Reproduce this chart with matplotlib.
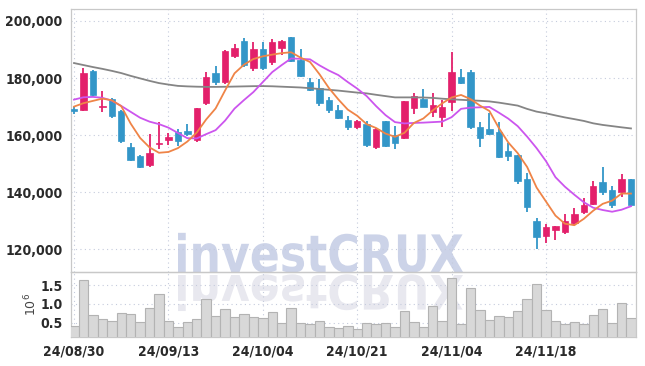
import matplotlib
matplotlib.use("Agg")
import matplotlib.pyplot as plt
import numpy as np
from matplotlib import font_manager
from matplotlib.textpath import TextPath
from matplotlib.patches import PathPatch
from matplotlib.font_manager import FontProperties
from matplotlib.transforms import Affine2D, IdentityTransform

dates = ["24/08/30", "24/09/02", "24/09/03", "24/09/04", "24/09/05", "24/09/06",
         "24/09/09", "24/09/10", "24/09/11", "24/09/12", "24/09/13",
         "24/09/19", "24/09/20", "24/09/23", "24/09/24", "24/09/25", "24/09/26", "24/09/27",
         "24/09/30", "24/10/02", "24/10/04",
         "24/10/07", "24/10/08", "24/10/10", "24/10/11",
         "24/10/14", "24/10/15", "24/10/16", "24/10/17", "24/10/18", "24/10/21",
         "24/10/22", "24/10/23", "24/10/24", "24/10/25",
         "24/10/28", "24/10/29", "24/10/30", "24/10/31", "24/11/01", "24/11/04",
         "24/11/05", "24/11/06", "24/11/07", "24/11/08",
         "24/11/11", "24/11/12", "24/11/13", "24/11/14", "24/11/15", "24/11/18",
         "24/11/19", "24/11/20", "24/11/21", "24/11/22",
         "24/11/25", "24/11/26", "24/11/27", "24/11/28", "24/11/29"]

opens = [169000, 168800, 182600, 169800, 172700, 168300, 155800, 152700, 149400, 157000,
         158200, 161000, 161500, 158200, 171300, 181900, 178700, 187800, 193000, 183400,
         190200, 185500, 190400, 194300, 186300, 178500, 176600, 172300, 168800, 165300,
         162900, 164000, 155900, 164900, 160000, 159000, 169400, 172500, 168200, 166400,
         171700, 180500, 182200, 162800, 162100, 161200, 154500, 153000, 144800, 129800,
         124700, 126700, 125900, 129200, 133100, 136000, 143600, 140700, 140100, 144600]
highs = [170000, 183500, 182800, 175500, 173000, 168700, 157200, 152900, 160300, 164700,
         160700, 162200, 163800, 169600, 182300, 184200, 190000, 191900, 194000, 192500,
         192500, 193600, 193300, 194500, 190100, 180100, 179500, 173400, 170500, 166800,
         165300, 165000, 162500, 165000, 163300, 172000, 174600, 176000, 174600, 172300,
         189200, 183200, 182800, 164600, 167600, 164700, 157100, 153200, 146800, 130800,
         129000, 128200, 132200, 134300, 137800, 143900, 148900, 142100, 146500, 144600]
lows = [167300, 168400, 173600, 168000, 166000, 157300, 150900, 148400, 149000, 155000,
        156500, 156300, 159800, 157500, 170500, 177500, 177900, 187000, 184000, 182600,
        183000, 184600, 188100, 185800, 180400, 175400, 170200, 167600, 165700, 161700,
        162100, 155800, 155000, 156000, 155300, 158500, 167400, 169700, 166400, 162900,
        168400, 177900, 162000, 155900, 160100, 152000, 150900, 143000, 133100, 120200,
        122200, 123100, 125500, 128400, 132200, 135400, 139000, 134600, 138400, 135000]
closes = [168300, 181900, 174000, 170200, 166700, 158000, 151400, 148800, 153600, 157300,
          159400, 158100, 160300, 169400, 180300, 178700, 189500, 190400, 184600, 190200,
          183400, 192500, 193000, 186100, 180800, 175800, 171100, 168800, 166100, 162900,
          165000, 156400, 162100, 156300, 157300, 171900, 173700, 169900, 170500, 169700,
          182200, 178100, 162700, 159100, 160300, 152400, 152700, 144000, 134800, 124300,
          127800, 128100, 129800, 132200, 135400, 142100, 140100, 135400, 144600, 135400]

ma5 = [170000, 171200, 172000, 172800, 172220, 170160, 164060, 159020, 155700, 153820,
       154100, 155440, 157740, 160900, 165500, 169360, 175640, 181660, 184700, 186680,
       187620, 188220, 188740, 189040, 187160, 185640, 181360, 176520, 172520, 168940,
       166780, 163840, 162500, 160540, 159420, 160800, 164260, 165820, 168660, 171140,
       173200, 174080, 172640, 170360, 168480, 162520, 157440, 153700, 148840, 141640,
       136720, 131800, 128960, 128440, 130660, 133520, 135920, 137040, 139520, 139520]
ma20 = [172450, 173260, 173400, 173090, 172100, 170240, 168170, 166100, 164730, 163860,
        162630, 160770, 158940, 158840, 160350, 161750, 165090, 169300, 172280, 175090,
        178600, 182100, 184560, 186880, 186740, 186560, 184460, 182630, 181050, 178600,
        176310, 173680, 170170, 167010, 164560, 164100, 164280, 164380, 164560, 164730,
        166300, 169220, 169640, 169750, 169890, 167890, 165790, 163150, 159470, 155440,
        150870, 145260, 141930, 139120, 136490, 134560, 133760, 133160, 133860, 135090]
ma60 = [185260, 184560, 183860, 183230, 182530, 181750, 180770, 179890, 179020, 178240,
        177720, 177260, 177090, 176980, 176910, 176910, 176950, 177020, 177090, 177160,
        177190, 177120, 176980, 176840, 176700, 176450, 176170, 175890, 175610, 175260,
        174910, 174630, 174140, 173680, 173230, 173230, 173230, 173190, 173050, 172770,
        172560, 172380, 172210, 172030, 171820, 171400, 170880, 170350, 169190, 168240,
        167650, 166910, 166210, 165610, 164980, 164140, 163580, 163160, 162740, 162350]
volumes = [410000, 1640000, 700000, 590000, 545000, 750000, 720000, 510000, 880000, 1250000,
           545000, 380000, 510000, 600000, 1120000, 680000, 860000, 640000, 720000, 640000,
           620000, 780000, 500000, 880000, 500000, 460000, 550000, 380000, 350000, 405000,
           325000, 485000, 465000, 485000, 380000, 820000, 510000, 390000, 940000, 545000,
           1680000, 460000, 1410000, 830000, 570000, 680000, 640000, 810000, 1130000, 1520000,
           840000, 540000, 460000, 510000, 460000, 710000, 870000, 490000, 1020000, 630000]

price_ticks = [120000, 140000, 160000, 180000, 200000]
vol_ticks = [0.5, 1.0, 1.5]

UP = "#e3206b"
DOWN = "#3396c8"
GRID = "#c5cbdc"
TXT = "#2a2a2a"

# pick a condensed bold face for tick labels if available
cond = FontProperties(family="DejaVu Sans", stretch="condensed", weight="bold")
path = font_manager.findfont(cond)
if "Condensed" in path:
    lab_font = dict(family="DejaVu Sans", stretch="condensed", weight="bold", size=10)
else:
    lab_font = dict(family="DejaVu Sans", weight="bold", size=8.6)

W, H = 645, 366
fig = plt.figure(figsize=(W / 100, H / 100), dpi=100)
fig.patch.set_facecolor("white")

L, R = 71, 635.7
T, M, B = 9.3, 272.3, 337.3
ax = fig.add_axes([L / W, (H - M) / H, (R - L) / W, (M - T) / H])
axv = fig.add_axes([L / W, (H - B) / H, (R - L) / W, (B - M) / H], sharex=ax)
for a in (ax, axv):
    a.set_facecolor("none")
    for s in a.spines.values():
        s.set_color("#c8c8c8")
        s.set_linewidth(0.9)
    a.grid(True, color=GRID, linestyle=(0, (1, 3)), linewidth=0.8)
    a.set_axisbelow(True)
    a.tick_params(length=0, colors=TXT)

x = np.arange(len(dates))
o = np.array(opens); c = np.array(closes); h = np.array(highs); l = np.array(lows)
up = c >= o
cols = np.where(up, UP, DOWN)
body_lo = np.minimum(o, c)
body_h = np.maximum(np.abs(c - o), 250)
ax.vlines(x, l, h, colors=cols, linewidth=1.3, zorder=3)
ax.bar(x, body_h, bottom=body_lo, width=0.68, color=cols, edgecolor=cols, linewidth=0.5, zorder=4)

ax.plot(x, ma60, color="#858585", linewidth=1.3, zorder=5)
ax.plot(x, ma20, color="#cc55ee", linewidth=1.3, zorder=5)
ax.plot(x, ma5, color="#ef8447", linewidth=1.3, zorder=5)

ax.set_ylim(111930, 204100)
ax.set_xlim(-0.32, 59.5)
ax.set_yticks(price_ticks)
ax.set_yticklabels([f"{v:,}" for v in price_ticks], **lab_font)
ax.tick_params(axis="y", pad=6)
ax.tick_params(axis="x", labelbottom=False)

vol_m = np.array(volumes) / 1e6
axv.bar(x, vol_m, width=1.0, color="#d8d8d8", edgecolor="#b3b3b3", linewidth=0.8, zorder=3)
axv.set_ylim(0.11, 1.84)
axv.set_yticks(vol_ticks)
axv.set_yticklabels([f"{v:.1f}" for v in vol_ticks], **lab_font)
axv.tick_params(axis="y", pad=6)
tick_idx = list(range(0, len(dates), 10))
axv.set_xticks(tick_idx)
axv.set_xticklabels([dates[i] for i in tick_idx], **lab_font)
axv.tick_params(axis="x", pad=5)
fig.text(31 / W, (H - 304) / H, r"$10^6$", rotation=90, ha="center", va="center",
         fontsize=9, color="#444444")

# watermark with reflection
fp = FontProperties(family="DejaVu Sans", weight="bold")
tp = TextPath((0, 0), "investCRUX", size=1, prop=fp)
bb = tp.get_extents()
capp = TextPath((0, 0), "C", size=1, prop=fp).get_extents()
sx = (463 - 178) / bb.width
sy = 39 / capp.height
tr_main = Affine2D().translate(-bb.x0, 0).scale(sx, sy).translate(178, H - 272)
tr_ref = Affine2D().translate(-bb.x0, 0).scale(sx, -sy * 0.92).translate(178, H - 275)
fig.add_artist(PathPatch(tr_main.transform_path(tp), transform=IdentityTransform(),
                         facecolor="#ccd3e8", edgecolor="none", zorder=-1))
fig.add_artist(PathPatch(tr_ref.transform_path(tp), transform=IdentityTransform(),
                         facecolor="#e8e8ef", edgecolor="none", zorder=-1))

fig.savefig("out.png", dpi=100, facecolor="white")
